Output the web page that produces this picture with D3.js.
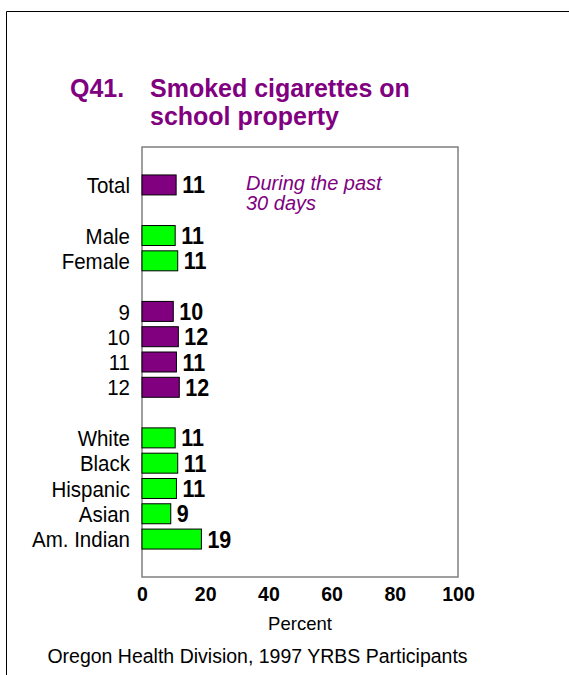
<!DOCTYPE html>
<html>
<head>
<meta charset="utf-8">
<script src="https://cdn.jsdelivr.net/npm/d3@7"></script>
<style>
  html, body { margin: 0; padding: 0; background: #fff; }
  svg { display: block; font-family: Arial, "Liberation Sans", sans-serif; }
</style>
</head>
<body>
<svg id="chart" width="569" height="675"></svg>
<script>
// Row layout (null = empty spacer row)
const slots = [null, "Total", null, "Male", "Female", null, "9", "10", "11", "12", null,
               "White", "Black", "Hispanic", "Asian", "Am. Indian", null];
const categories = ["Total", "Male", "Female", "9", "10", "11", "12",
                    "White", "Black", "Hispanic", "Asian", "Am. Indian"];
const values = [10.8, 10.5, 11.3, 9.9, 11.5, 10.9, 11.8, 10.5, 11.3, 10.9, 9.1, 18.8];
const valueLabels = ["11", "11", "11", "10", "12", "11", "12", "11", "11", "11", "9", "19"];
const groups = ["total", "sex", "sex", "grade", "grade", "grade", "grade",
                "race", "race", "race", "race", "race"];
const xTicks = [0, 20, 40, 60, 80, 100];
const titleLines = ["Smoked cigarettes on", "school property"];
const questionLabel = "Q41.";
const noteLines = ["During the past", "30 days"];
const xAxisTitle = "Percent";
const footer = "Oregon Health Division, 1997 YRBS Participants";

const colorOf = { total: "#800080", grade: "#800080", sex: "#00ff00", race: "#00ff00" };
const PURPLE = "#800080";

const svg = d3.select("#chart");

// outer frame lines (top and left)
svg.append("line").attr("x1", 6.5).attr("y1", 11.5).attr("x2", 569).attr("y2", 11.5)
  .attr("stroke", "#000").attr("stroke-width", 1);
svg.append("line").attr("x1", 6.5).attr("y1", 11.5).attr("x2", 6.5).attr("y2", 675)
  .attr("stroke", "#000").attr("stroke-width", 1);

// Title
svg.append("text").attr("x", 70).attr("y", 97)
  .attr("fill", PURPLE).attr("font-weight", "bold").attr("font-size", 25)
  .text(questionLabel);
svg.append("g").selectAll("text").data(titleLines).join("text")
  .attr("x", 150).attr("y", (d, i) => 97 + i * 28)
  .attr("fill", PURPLE).attr("font-weight", "bold").attr("font-size", 25)
  .text(d => d);

const plot = { left: 142, right: 458, top: 147, bottom: 577 };

const x = d3.scaleLinear().domain([0, 100]).range([plot.left, plot.right]);
const y = d3.scaleBand().domain(d3.range(slots.length))
  .range([plot.top, plot.bottom]).paddingInner(0.21).paddingOuter(0.105);
const rowOf = c => slots.indexOf(c);

// plot box
svg.append("rect")
  .attr("x", plot.left).attr("y", plot.top)
  .attr("width", plot.right - plot.left).attr("height", plot.bottom - plot.top)
  .attr("fill", "none").attr("stroke", "#7f7f7f").attr("stroke-width", 1.5);

const data = categories.map((c, i) => ({ c, v: values[i], label: valueLabels[i], g: groups[i] }));

// bars
svg.append("g").selectAll("rect").data(data).join("rect")
  .attr("x", x(0))
  .attr("y", d => y(rowOf(d.c)))
  .attr("width", d => x(d.v) - x(0))
  .attr("height", y.bandwidth())
  .attr("fill", d => colorOf[d.g])
  .attr("stroke", "#000").attr("stroke-width", 1);

const STRETCH = 1.1;

// value labels
svg.append("g").selectAll("text").data(data).join("text")
  .attr("transform", d => `translate(${x(d.v) + 6},${y(rowOf(d.c)) + y.bandwidth() / 2}) scale(1,${STRETCH})`)
  .attr("dy", "0.36em")
  .attr("font-weight", "bold").attr("font-size", 21.5).attr("fill", "#000")
  .text(d => d.label);

// category labels
svg.append("g").selectAll("text").data(data).join("text")
  .attr("transform", d => `translate(130,${y(rowOf(d.c)) + y.bandwidth() / 2}) scale(1,${STRETCH})`)
  .attr("dy", "0.36em")
  .attr("text-anchor", "end")
  .attr("font-size", 20.5).attr("fill", "#000")
  .text(d => d.c);

// x axis (labels only)
const xAxis = d3.axisBottom(x).tickValues(xTicks).tickSize(0).tickPadding(0);
const gx = svg.append("g").attr("transform", `translate(0,${plot.bottom})`).call(xAxis);
gx.select(".domain").remove();
gx.selectAll("text")
  .attr("y", 23.5).attr("dy", 0)
  .attr("font-family", "Arial, 'Liberation Sans', sans-serif")
  .attr("font-weight", "bold").attr("font-size", 19.5).attr("fill", "#000");

// axis title
svg.append("text").attr("x", (plot.left + plot.right) / 2).attr("y", 630)
  .attr("text-anchor", "middle").attr("font-size", 18.5).attr("fill", "#000")
  .text(xAxisTitle);

// note
svg.append("g").selectAll("text").data(noteLines).join("text")
  .attr("x", 246).attr("y", (d, i) => 190 + i * 20)
  .attr("font-style", "italic").attr("font-size", 20).attr("fill", PURPLE)
  .text(d => d);

// footer
svg.append("text").attr("x", 257.5).attr("y", 663)
  .attr("text-anchor", "middle").attr("font-size", 19.5).attr("fill", "#000")
  .text(footer);
</script>
</body>
</html>
